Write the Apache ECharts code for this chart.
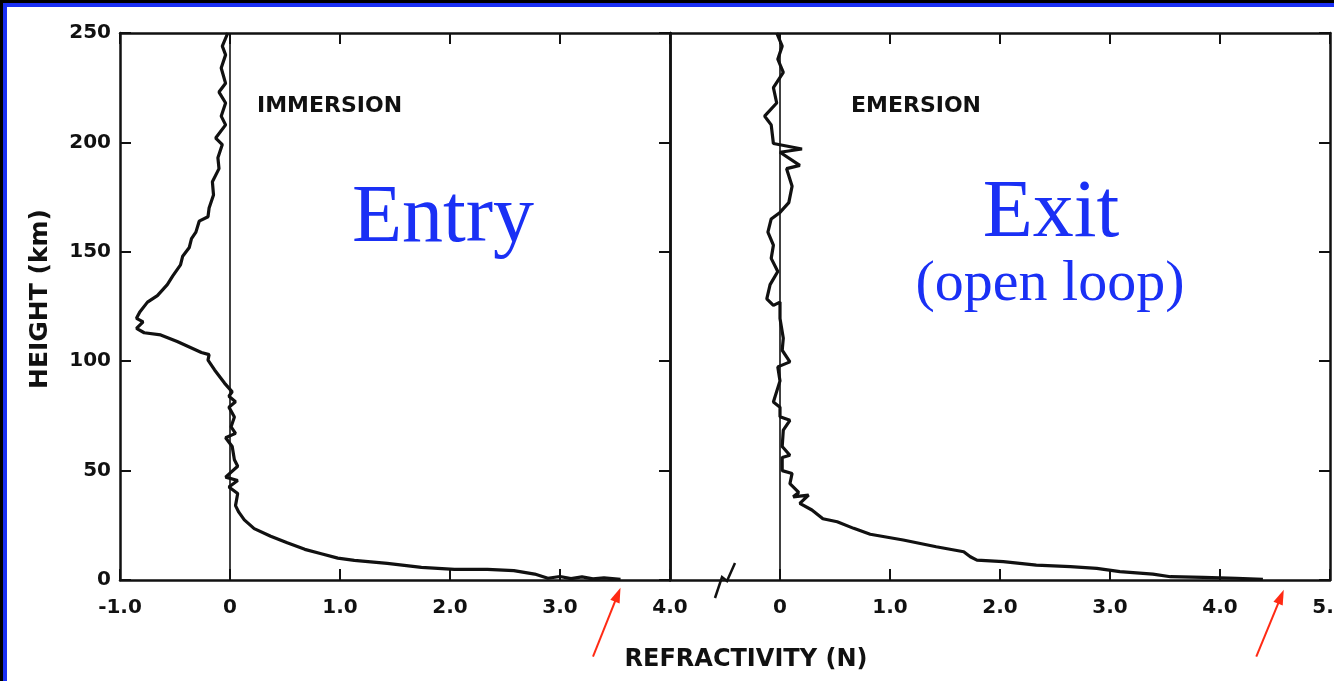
<!DOCTYPE html>
<html>
<head>
<meta charset="utf-8">
<script src="https://cdn.jsdelivr.net/npm/echarts@6/dist/echarts.min.js"></script>
<style>
  html, body { margin: 0; padding: 0; background: #fff; }
  #chart { width: 1334px; height: 681px; }
</style>
</head>
<body>
<div id="chart"></div>
<script>
// refractivity N vs height (km)
const immersionN = [-0.02,-0.07,-0.04,-0.08,-0.04,-0.10,-0.04,-0.08,-0.04,-0.13,-0.07,-0.11,-0.10,-0.16,-0.15,-0.19,-0.20,-0.28,-0.31,-0.35,-0.37,-0.43,-0.45,-0.52,-0.57,-0.66,-0.75,-0.82,-0.85,-0.79,-0.85,-0.78,-0.63,-0.48,-0.26,-0.19,-0.20,-0.14,-0.05,0.02,-0.01,0.05,-0.01,0.04,0.01,0.05,-0.04,0.02,0.04,0.07,-0.04,0.07,-0.01,0.07,0.05,0.08,0.13,0.22,0.37,0.52,0.68,0.83,0.98,1.13,1.43,1.74,2.04,2.34,2.58,2.77,2.89,3.0,3.1,3.2,3.3,3.4,3.55];
const immersionH = [250,244,240,234,227,223,218,212,208,202,199,193,188,182,176,170,166,164,159,156,152,148,144,139,135,130,127,122.5,119.6,118,115,113,112,109,104,103,100.5,96,90,86,84,81.5,79,74.5,70,67,65,61,55,52,47,45.5,42.5,39.5,34,31,27.5,23.5,20,17,14,12,10,9,7.6,5.8,4.9,4.9,4.3,2.7,0.8,1.6,0.6,1.4,0.5,1.0,0.3];

const emersionN = [-0.03,0.02,-0.02,0.03,-0.06,-0.03,-0.14,-0.11,-0.08,-0.06,0.20,0.0,0.18,0.06,0.11,0.08,0.0,-0.08,-0.11,-0.06,-0.08,-0.02,-0.09,-0.12,-0.06,0.0,0.0,0.03,0.02,0.09,-0.02,0.0,-0.06,0.0,0.0,0.09,0.03,0.02,0.09,0.02,0.02,0.11,0.09,0.17,0.12,0.26,0.18,0.29,0.39,0.52,0.67,0.82,1.12,1.42,1.67,1.73,1.79,2.03,2.33,2.64,2.88,3.09,3.39,3.55,3.85,4.15,4.39];
const emersionH = [250,244,238,232,225,218,212,210,208,199.5,197,195.5,189.5,188,180,172.5,168,165,159,153,147,141,135,128.5,125.5,127,119.5,110.5,105,99.7,97.4,91,81.4,79,74.6,73,68.5,61,57,56,50,48.7,44,40,38,38.8,35,32,28,26.6,23.6,20.9,18.3,15.2,12.9,10.6,9.1,8.4,6.8,6.1,5.3,3.8,2.7,1.5,1.2,0.8,0.3];

// arrow tail / tip in data units for each panel
const arrowLeft = [[3.30, -35], [3.55, -3.5]];
const arrowRight = [[4.33, -35], [4.58, -4.5]];

const ink = '#111';
const tickFont = { color: ink, fontSize: 20, fontWeight: 'bold', fontFamily: 'DejaVu Sans' };

function fmt(v) {
  return v === 0 ? '0' : v.toFixed(1);
}
function pairs(xs, ys) {
  return xs.map((x, i) => [x, ys[i]]);
}

const myChart = echarts.init(document.getElementById('chart'));

const axisLine = { show: true, onZero: false, lineStyle: { color: ink, width: 2.5 } };
const tick = { show: true, inside: true, length: 11, lineStyle: { color: ink, width: 2 } };

function xAx(grid, min, max, pos, labels) {
  return {
    type: 'value', gridIndex: grid, position: pos, min: min, max: max, interval: 1,
    axisLine: axisLine, axisTick: tick, splitLine: { show: false },
    axisLabel: labels ? Object.assign({ margin: 18, formatter: labels }, tickFont) : { show: false }
  };
}
function yAx(grid, pos, showTick, labels) {
  return {
    type: 'value', gridIndex: grid, position: pos, min: 0, max: 250, interval: 50,
    axisLine: axisLine, axisTick: showTick ? tick : { show: false }, splitLine: { show: false },
    axisLabel: labels ? Object.assign({ margin: 9 }, tickFont) : { show: false }
  };
}

const zeroLine = {
  silent: true, symbol: 'none', label: { show: false },
  lineStyle: { color: ink, width: 1.6, type: 'solid' },
  data: [{ xAxis: 0 }]
};

const option = {
  animation: false,
  backgroundColor: '#fff',
  grid: [
    { left: 120, top: 33, width: 550, height: 547, outerBoundsMode: 'none', containLabel: false },
    { left: 670, top: 33, width: 660, height: 547, outerBoundsMode: 'none', containLabel: false }
  ],
  xAxis: [
    xAx(0, -1, 4, 'bottom', fmt),
    xAx(0, -1, 4, 'top', null),
    xAx(1, -1, 5, 'bottom', v => (v === -1 ? '' : fmt(v))),
    xAx(1, -1, 5, 'top', null)
  ],
  yAxis: [
    yAx(0, 'left', true, true),
    yAx(0, 'right', true, false),
    yAx(1, 'left', false, false),
    yAx(1, 'right', true, false)
  ],
  series: [
    {
      name: 'IMMERSION', type: 'line', xAxisIndex: 0, yAxisIndex: 0,
      data: pairs(immersionN, immersionH), showSymbol: false, symbol: 'none',
      lineStyle: { color: ink, width: 3.2 }, markLine: zeroLine
    },
    {
      name: 'EMERSION', type: 'line', xAxisIndex: 2, yAxisIndex: 2,
      data: pairs(emersionN, emersionH), showSymbol: false, symbol: 'none',
      lineStyle: { color: ink, width: 3.2 }, markLine: zeroLine
    }
  ]
};

myChart.setOption(option);

function arrow(grid, pts) {
  const finder = { xAxisIndex: grid * 2, yAxisIndex: grid * 2 };
  const a = myChart.convertToPixel(finder, pts[0]);
  const b = myChart.convertToPixel(finder, pts[1]);
  const dx = b[0] - a[0], dy = b[1] - a[1];
  const len = Math.sqrt(dx * dx + dy * dy);
  const ux = dx / len, uy = dy / len;
  const L = 15, W = 5;
  const base = [b[0] - ux * L, b[1] - uy * L];
  return [
    { type: 'line', shape: { x1: a[0], y1: a[1], x2: base[0] + ux * 3, y2: base[1] + uy * 3 },
      style: { stroke: '#ff2a14', lineWidth: 2 } },
    { type: 'polygon', shape: { points: [b, [base[0] - uy * W, base[1] + ux * W], [base[0] + uy * W, base[1] - ux * W]] },
      style: { fill: '#ff2a14' } }
  ];
}

const brk = myChart.convertToPixel({ xAxisIndex: 2, yAxisIndex: 2 }, [-0.5, 0]);
const blue = '#1a30f5';
const bigFont = 'Liberation Serif';

const graphic = [
  // slide frame
  { type: 'rect', shape: { x: 0, y: 0, width: 1334, height: 3 }, style: { fill: '#000' } },
  { type: 'rect', shape: { x: 0, y: 3, width: 1334, height: 4 }, style: { fill: blue } },
  { type: 'rect', shape: { x: 0, y: 0, width: 3, height: 681 }, style: { fill: '#000' } },
  { type: 'rect', shape: { x: 3, y: 3, width: 4, height: 678 }, style: { fill: blue } },
  // axis break
  { type: 'polyline', shape: { points: [[brk[0] + 10, brk[1] - 17], [brk[0] + 2, brk[1] + 1], [brk[0] - 3, brk[1] - 3], [brk[0] - 10, brk[1] + 18]] },
    style: { stroke: ink, lineWidth: 2.5, fill: null } },
  // panel labels
  { type: 'text', x: 257, y: 117, style: { text: 'IMMERSION', font: 'bold 22px "DejaVu Sans"', fill: ink, textVerticalAlign: 'bottom' } },
  { type: 'text', x: 851, y: 117, style: { text: 'EMERSION', font: 'bold 22px "DejaVu Sans"', fill: ink, textVerticalAlign: 'bottom' } },
  { type: 'text', x: 746, y: 672, style: { text: 'REFRACTIVITY (N)', font: 'bold 24px "DejaVu Sans"', fill: ink, textAlign: 'center', textVerticalAlign: 'bottom' } },
  { type: 'text', x: 40, y: 299, rotation: Math.PI / 2,
    style: { text: 'HEIGHT (km)', font: 'bold 25px "DejaVu Sans"', fill: ink, textAlign: 'center', textVerticalAlign: 'middle' } },
  // blue annotations
  { type: 'text', x: 443, y: 178, style: { text: 'Entry', font: '82px "' + bigFont + '"', fill: blue, textAlign: 'center', textVerticalAlign: 'top' } },
  { type: 'text', x: 1051, y: 173, style: { text: 'Exit', font: '82px "' + bigFont + '"', fill: blue, textAlign: 'center', textVerticalAlign: 'top' } },
  { type: 'text', x: 1050, y: 256, style: { text: '(open loop)', font: '58px "' + bigFont + '"', fill: blue, textAlign: 'center', textVerticalAlign: 'top' } }
].concat(arrow(0, arrowLeft), arrow(1, arrowRight));

myChart.setOption({ graphic: graphic });

window.addEventListener('resize', function () {
  myChart.resize();
});
</script>
</body>
</html>
